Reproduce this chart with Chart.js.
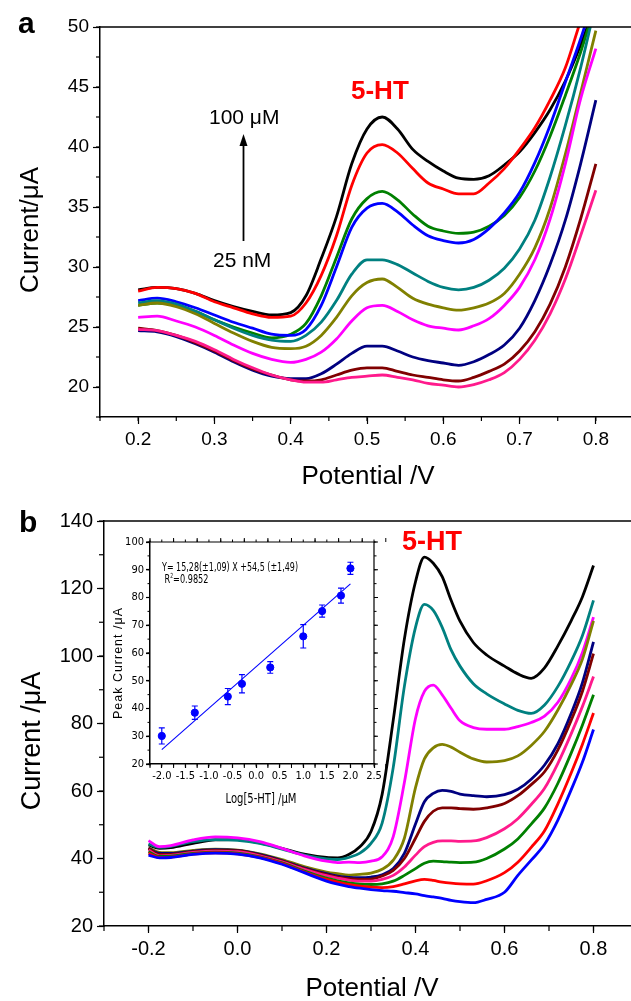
<!DOCTYPE html>
<html><head><meta charset="utf-8">
<script src="https://cdn.jsdelivr.net/npm/chart.js@4.4.0/dist/chart.umd.min.js"></script>
<style>
html,body{margin:0;padding:0;background:#fff;overflow:hidden;width:631px;height:1001px;position:relative;}
canvas{position:absolute;display:block;}
#ca{left:0;top:0;width:640px;height:500px;}
#cb{left:0;top:500px;width:640px;height:501px;}
#ci{left:100px;top:530px;width:290px;height:280px;}
</style></head><body>
<canvas id="ca" width="640" height="500"></canvas>
<canvas id="cb" width="640" height="501"></canvas>
<canvas id="ci" width="290" height="280"></canvas>
<script>
// ---------- Panel a data ----------
const A_V = [0.2, 0.225, 0.25, 0.275, 0.3, 0.325, 0.35, 0.375, 0.4, 0.42, 0.44, 0.46, 0.48, 0.5, 0.52, 0.54, 0.56, 0.58, 0.6, 0.62, 0.64, 0.66, 0.68, 0.7, 0.72, 0.74, 0.76, 0.78, 0.8];
const A_BLACK   = [28.1, 28.3, 28.2, 27.8, 27.2, 26.7, 26.3, 26.0, 26.2, 27.6, 30.7, 34.2, 38.6, 41.5, 42.5, 41.5, 39.8, 38.8, 38.0, 37.4, 37.3, 37.6, 38.5, 39.6, 41.2, 43.1, 45.5, 48.5, 52.0];
const A_RED     = [28.0, 28.3, 28.2, 27.8, 27.1, 26.6, 26.1, 25.8, 25.9, 27.0, 29.3, 32.6, 36.8, 39.5, 40.2, 39.5, 38.2, 37.0, 36.5, 36.1, 36.1, 37.0, 38.2, 39.8, 41.6, 43.9, 46.6, 50.5, 54.0];
const A_GREEN   = [26.8, 27.0, 26.8, 26.3, 25.6, 25.0, 24.5, 24.1, 24.4, 25.3, 27.6, 30.8, 34.0, 35.7, 36.3, 35.6, 34.4, 33.4, 33.0, 32.8, 32.9, 33.4, 34.3, 35.8, 38.0, 40.9, 44.3, 47.9, 52.0];
const A_BLUE    = [27.2, 27.4, 27.1, 26.6, 26.0, 25.4, 24.9, 24.4, 24.3, 24.8, 26.8, 30.0, 33.3, 34.9, 35.3, 34.6, 33.5, 32.6, 32.2, 32.0, 32.3, 33.2, 34.5, 36.2, 38.7, 41.8, 45.4, 49.0, 53.0];
const A_TEAL    = [27.0, 27.2, 26.9, 26.3, 25.6, 24.9, 24.3, 23.9, 23.8, 24.3, 25.4, 27.2, 29.4, 30.6, 30.6, 30.2, 29.5, 28.8, 28.3, 28.1, 28.3, 28.9, 29.9, 31.5, 33.9, 37.5, 41.8, 46.6, 52.0];
const A_OLIVE   = [26.8, 27.0, 26.7, 26.1, 25.3, 24.5, 23.8, 23.3, 23.2, 23.4, 24.3, 25.8, 27.6, 28.7, 29.0, 28.3, 27.4, 26.9, 26.6, 26.4, 26.6, 27.0, 27.8, 29.4, 31.6, 34.9, 39.4, 44.5, 49.7];
const A_MAGENTA = [25.8, 25.9, 25.5, 25.0, 24.3, 23.5, 22.8, 22.3, 22.05, 22.3, 22.9, 24.0, 25.5, 26.6, 26.8, 26.3, 25.6, 25.1, 24.9, 24.75, 25.1, 25.7, 26.8, 28.3, 30.6, 34.0, 38.6, 44.0, 48.2];
const A_NAVY    = [24.7, 24.6, 24.2, 23.6, 22.9, 22.1, 21.4, 20.9, 20.7, 20.7, 21.1, 21.9, 22.8, 23.4, 23.4, 23.0, 22.5, 22.2, 22.0, 21.8, 22.1, 22.7, 23.5, 24.9, 27.2, 30.2, 33.9, 38.6, 43.9];
const A_MAROON  = [24.9, 24.7, 24.3, 23.7, 23.0, 22.2, 21.5, 21.0, 20.6, 20.5, 20.6, 21.0, 21.4, 21.6, 21.6, 21.3, 21.0, 20.8, 20.6, 20.5, 20.8, 21.3, 21.9, 23.0, 24.6, 26.9, 30.0, 34.0, 38.6];
const A_PINK    = [24.8, 24.7, 24.3, 23.8, 23.1, 22.3, 21.6, 21.0, 20.6, 20.4, 20.4, 20.6, 20.8, 20.9, 21.0, 20.8, 20.6, 20.3, 20.15, 20.0, 20.2, 20.6, 21.2, 22.3, 23.9, 26.1, 29.0, 32.6, 36.4];
const A_XTICKS = [0.2, 0.3, 0.4, 0.5, 0.6, 0.7, 0.8];
const A_YTICKS = [20, 25, 30, 35, 40, 45, 50];

// ---------- Panel b data ----------
const B_V = [-0.2, -0.175, -0.15, -0.1, -0.05, 0, 0.05, 0.1, 0.15, 0.2, 0.225, 0.25, 0.275, 0.3, 0.325, 0.35, 0.375, 0.4, 0.42, 0.44, 0.46, 0.48, 0.5, 0.53, 0.56, 0.6, 0.63, 0.66, 0.69, 0.72, 0.75, 0.775, 0.8];
const B_BLACK   = [44.0, 43.0, 43.2, 44.5, 45.5, 45.6, 44.6, 43.0, 41.3, 40.3, 40.2, 41.2, 43.5, 48.0, 59.0, 81.0, 105.0, 122.0, 129.3, 127.5, 123.5, 116.5, 110.3, 104.0, 100.3, 97.0, 94.7, 93.4, 96.5, 103.0, 110.5, 117.5, 126.8];
const B_TEAL    = [44.3, 43.3, 43.6, 45.0, 45.6, 45.4, 44.5, 42.8, 41.0, 39.9, 39.7, 40.3, 41.6, 44.5, 50.5, 67.0, 91.0, 108.5, 115.3, 113.5, 108.5, 101.8, 97.0, 91.8, 88.8, 85.8, 83.9, 83.0, 85.5, 91.0, 98.5, 106.0, 116.5];
const B_MAGENTA = [45.3, 43.5, 43.8, 45.5, 46.4, 46.1, 45.0, 43.0, 40.8, 39.2, 38.8, 38.9, 38.8, 39.2, 40.5, 46.5, 62.5, 81.5, 89.5, 91.4, 88.5, 84.5, 80.8, 78.8, 78.3, 78.3, 79.1, 80.3, 82.2, 86.3, 93.3, 101.0, 111.5];
const B_OLIVE   = [43.2, 41.8, 41.7, 42.4, 42.8, 42.5, 41.4, 39.7, 37.6, 36.0, 35.5, 35.1, 35.3, 35.7, 36.8, 39.5, 46.0, 61.0, 69.5, 72.8, 73.8, 73.0, 71.5, 69.5, 68.6, 69.0, 70.4, 73.5, 77.7, 84.0, 91.6, 99.0, 110.4];
const B_NAVY    = [43.0, 41.5, 41.5, 42.2, 42.6, 42.4, 41.2, 39.4, 37.2, 35.5, 34.8, 34.4, 34.3, 34.5, 35.2, 37.0, 41.5, 50.2, 56.8, 59.3, 60.2, 59.9, 59.1, 58.6, 58.3, 58.9, 60.5, 63.5, 67.7, 74.0, 83.0, 92.0, 104.2];
const B_MAROON  = [43.0, 41.2, 41.2, 42.0, 42.4, 42.3, 41.0, 39.2, 37.0, 35.2, 34.5, 34.0, 33.8, 33.9, 34.8, 36.5, 40.0, 46.0, 51.0, 54.0, 55.0, 55.0, 54.8, 54.6, 55.0, 56.3, 58.6, 61.9, 65.7, 72.2, 81.0, 89.5, 100.7];
const B_PINK    = [42.5, 40.8, 40.9, 41.8, 42.2, 42.0, 40.8, 39.0, 36.8, 34.9, 34.2, 33.6, 33.3, 33.3, 33.8, 35.0, 37.5, 41.0, 43.5, 44.8, 45.2, 45.2, 45.1, 45.2, 46.2, 48.8, 51.8, 56.0, 60.8, 68.2, 77.0, 85.0, 93.9];
const B_GREEN   = [42.0, 40.6, 40.7, 41.5, 41.9, 41.6, 40.5, 38.7, 36.3, 34.2, 33.4, 32.8, 32.4, 32.3, 32.5, 33.3, 35.0, 37.0, 38.6, 39.2, 39.1, 38.9, 38.8, 38.9, 40.0, 42.8, 45.8, 50.2, 55.0, 62.3, 71.3, 79.5, 88.5];
const B_RED     = [41.5, 40.3, 40.4, 41.3, 41.7, 41.4, 40.3, 38.5, 36.0, 33.8, 33.0, 32.3, 31.8, 31.5, 31.4, 31.7, 32.5, 33.4, 33.8, 33.5, 33.0, 32.7, 32.5, 32.4, 33.4, 35.8, 38.9, 43.3, 48.2, 56.2, 65.4, 73.8, 83.1];
const B_BLUE    = [41.0, 40.2, 40.3, 41.2, 41.6, 41.3, 40.2, 38.3, 35.8, 33.3, 32.4, 31.7, 31.2, 30.8, 30.5, 30.3, 29.9, 29.5, 29.0, 28.6, 28.2, 27.6, 27.2, 26.9, 27.9, 30.0, 35.0, 39.5, 44.2, 51.4, 60.4, 68.5, 78.2];
const B_XTICKS = [-0.2, 0.0, 0.2, 0.4, 0.6, 0.8];
const B_YTICKS = [20, 40, 60, 80, 100, 120, 140];

// ---------- Inset data ----------
const IN_LOGC = [-2.0, -1.3, -0.6, -0.3, 0.3, 1.0, 1.4, 1.8, 2.0];
const IN_PEAK = [30.1, 38.5, 44.3, 48.9, 54.8, 66.0, 75.1, 80.7, 90.5];
const IN_ERR  = [2.9, 2.4, 2.9, 3.3, 2.1, 4.2, 2.2, 2.7, 2.2];
const FIT_X = [-2.0, 2.0];
const FIT_Y = [25.2, 84.9];
const IN_XTICKS = [-2.0, -1.5, -1.0, -0.5, 0.0, 0.5, 1.0, 1.5, 2.0, 2.5];
const IN_YTICKS = [20, 30, 40, 50, 60, 70, 80, 90, 100];

const FONT = "'Liberation Sans', Arial, sans-serif";
const NARROW = "'Liberation Sans Narrow', 'DejaVu Sans Condensed', 'Liberation Sans', sans-serif";

const COL = {black:'#000000', red:'#FF0000', green:'#008000', blue:'#0000FF', teal:'#008080',
  olive:'#808000', magenta:'#FF00FF', navy:'#000080', maroon:'#800000', pink:'#FF1A8C'};

function series(xs, ys, color){
  return {data: xs.map((x,i)=>({x:x, y:ys[i]})), borderColor: color, backgroundColor: color,
    borderWidth: 2.8, pointRadius: 0, cubicInterpolationMode: 'monotone', fill:false};
}

const deco = {
  id: 'deco',
  afterDraw(chart, args, o) {
    const ctx = chart.ctx, a = chart.chartArea;
    ctx.save();
    ctx.strokeStyle = '#000'; ctx.lineWidth = o.lw || 1.5;
    ctx.beginPath(); ctx.moveTo(a.left, a.top); ctx.lineTo(a.right + 1, a.top);
    if (o.box) { ctx.moveTo(a.right, a.top); ctx.lineTo(a.right, a.bottom); }
    ctx.stroke();
    ctx.lineWidth = o.tlw || 1.2;
    const sx = chart.scales.x, sy = chart.scales.y;
    const drawX = (step, len) => {
      const n = Math.round((sx.max - sx.min) / step);
      for (let i = 0; i <= n; i++) {
        const p = sx.getPixelForValue(sx.min + i * step);
        ctx.beginPath(); ctx.moveTo(p, a.bottom); ctx.lineTo(p, a.bottom + len); ctx.stroke();
        if (o.box) { ctx.beginPath(); ctx.moveTo(p, a.top); ctx.lineTo(p, a.top - len); ctx.stroke(); }
      }
    };
    const drawY = (step, len) => {
      const n = Math.round((sy.max - sy.min) / step);
      for (let i = 0; i <= n; i++) {
        const p = sy.getPixelForValue(sy.min + i * step);
        ctx.beginPath(); ctx.moveTo(a.left - len, p); ctx.lineTo(a.left, p); ctx.stroke();
        if (o.box) { ctx.beginPath(); ctx.moveTo(a.right, p); ctx.lineTo(a.right + len, p); ctx.stroke(); }
      }
    };
    drawX(o.minor.x, o.minor.len);
    drawY(o.minor.y, o.minor.len);
    if (o.box) { drawX(o.major.x, o.major.len); drawY(o.major.y, o.major.len); }
    if (o.arrow) {
      const w = o.arrow;
      ctx.fillStyle = '#000'; ctx.lineWidth = 1.8;
      ctx.beginPath(); ctx.moveTo(w.x, w.y1); ctx.lineTo(w.x, w.y2 + 8); ctx.stroke();
      ctx.beginPath(); ctx.moveTo(w.x, w.y2); ctx.lineTo(w.x - 4, w.y2 + 12); ctx.lineTo(w.x + 4, w.y2 + 12); ctx.closePath(); ctx.fill();
    }
    (o.texts || []).forEach(t => {
      ctx.save();
      ctx.font = t.font; ctx.fillStyle = t.color || '#000';
      ctx.textAlign = t.align || 'left'; ctx.textBaseline = t.baseline || 'alphabetic';
      if (t.spacing) ctx.letterSpacing = t.spacing;
      ctx.translate(t.x, t.y);
      if (t.rot) ctx.rotate(t.rot);
      let total = ctx.measureText(t.t).width;
      let w0 = total, w1 = 0;
      if (t.sup) {
        ctx.font = t.supFont; w1 = ctx.measureText(t.sup).width;
        ctx.font = t.font; total = w0 + w1 + ctx.measureText(t.after).width;
      }
      if (t.w) ctx.scale(t.w / total, 1);
      ctx.fillText(t.t, 0, 0);
      if (t.sup) {
        ctx.font = t.supFont; ctx.fillText(t.sup, w0, -5);
        ctx.font = t.font; ctx.fillText(t.after, w0 + w1, 0);
      }
      ctx.restore();
    });
    ctx.restore();
  }
};

const errBars = {
  id: 'errBars',
  afterDatasetsDraw(chart) {
    const ctx = chart.ctx, sx = chart.scales.x, sy = chart.scales.y;
    ctx.save(); ctx.strokeStyle = '#0000FF'; ctx.lineWidth = 1.2;
    IN_LOGC.forEach((x, i) => {
      const px = sx.getPixelForValue(x);
      const top = sy.getPixelForValue(IN_PEAK[i] + IN_ERR[i]);
      const bot = sy.getPixelForValue(IN_PEAK[i] - IN_ERR[i]);
      ctx.beginPath();
      ctx.moveTo(px, top); ctx.lineTo(px, bot);
      ctx.moveTo(px - 3, top); ctx.lineTo(px + 3, top);
      ctx.moveTo(px - 3, bot); ctx.lineTo(px + 3, bot);
      ctx.stroke();
    });
    ctx.restore();
  }
};

function xAxis(min, max, ticks, h, size, tl, pad, fmt, font) {
  return {type:'linear', min:min, max:max,
    afterBuildTicks: s => { s.ticks = ticks.map(v => ({value:v})); },
    afterFit: s => { s.height = h; },
    grid: {display:true, drawOnChartArea:false, drawTicks:true, tickLength:tl, tickColor:'#000', tickWidth:1.2, color:'#000'},
    border: {display:true, color:'#000', width:1.5},
    ticks: {color:'#000', font:{family:font, size:size}, padding:pad, maxRotation:0, autoSkip:false, callback: fmt}
  };
}
function yAxis(min, max, ticks, w, size, tl, pad, fmt, font) {
  return {type:'linear', min:min, max:max,
    afterBuildTicks: s => { s.ticks = ticks.map(v => ({value:v})); },
    afterFit: s => { s.width = w; },
    grid: {display:true, drawOnChartArea:false, drawTicks:true, tickLength:tl, tickColor:'#000', tickWidth:1.2, color:'#000'},
    border: {display:true, color:'#000', width:1.5},
    ticks: {color:'#000', font:{family:font, size:size}, padding:pad, autoSkip:false, callback: fmt}
  };
}
const f1 = v => Number(v).toFixed(1);
const f0 = v => String(Math.round(v));

// ---------- Panel a ----------
new Chart(document.getElementById('ca'), {
  type: 'line',
  data: {datasets: [
    series(A_V, A_PINK, COL.pink), series(A_V, A_MAROON, COL.maroon), series(A_V, A_NAVY, COL.navy),
    series(A_V, A_MAGENTA, COL.magenta), series(A_V, A_OLIVE, COL.olive), series(A_V, A_TEAL, COL.teal),
    series(A_V, A_BLUE, COL.blue), series(A_V, A_GREEN, COL.green), series(A_V, A_RED, COL.red),
    series(A_V, A_BLACK, COL.black)
  ]},
  options: {
    responsive:false, animation:false, devicePixelRatio:1,
    layout: {padding: {top:27, right:6, left:0, bottom:0}},
    scales: {
      x: xAxis(0.15, 0.85, A_XTICKS, 83, 19, 7, 4, f1, FONT),
      y: yAxis(17.5, 50, A_YTICKS, 100, 19, 7, 4, f0, FONT)
    },
    plugins: {
      legend:{display:false}, tooltip:{enabled:false},
      deco: {
        minor: {x:0.05, y:2.5, len:4},
        arrow: {x:243.5, y1:241, y2:134},
        texts: [
          {t:'a', x:18, y:33, font:"bold 30px "+FONT},
          {t:'5-HT', x:351, y:99, font:"bold 26px "+FONT, color:'#FF0000'},
          {t:'100 μM', x:209, y:124, font:"21px "+FONT},
          {t:'25 nM', x:213, y:267, font:"21px "+FONT},
          {t:'Current/μA', x:31, y:230, font:"26px "+FONT, align:'center', baseline:'middle', rot:-Math.PI/2},
          {t:'Potential /V', x:368, y:484, font:"26px "+FONT, align:'center'}
        ]
      }
    }
  },
  plugins: [deco]
});

// ---------- Panel b ----------
new Chart(document.getElementById('cb'), {
  type: 'line',
  data: {datasets: [
    series(B_V, B_BLUE, COL.blue), series(B_V, B_RED, COL.red), series(B_V, B_GREEN, COL.green),
    series(B_V, B_PINK, COL.pink), series(B_V, B_MAROON, COL.maroon), series(B_V, B_NAVY, COL.navy),
    series(B_V, B_OLIVE, COL.olive), series(B_V, B_MAGENTA, COL.magenta), series(B_V, B_TEAL, COL.teal),
    series(B_V, B_BLACK, COL.black)
  ]},
  options: {
    responsive:false, animation:false, devicePixelRatio:1,
    layout: {padding: {top:21, right:2, left:0, bottom:0}},
    scales: {
      x: xAxis(-0.3, 0.9, B_XTICKS, 75, 20, 7, 4, f1, FONT),
      y: yAxis(20, 140, B_YTICKS, 104, 20, 7, 4, f0, FONT)
    },
    plugins: {
      legend:{display:false}, tooltip:{enabled:false},
      deco: {
        minor: {x:0.1, y:10, len:5},
        texts: [
          {t:'b', x:19, y:32, font:"bold 30px "+FONT},
          {t:'5-HT', x:402, y:50, font:"bold 27px "+FONT, color:'#FF0000'},
          {t:'Current /μA', x:33, y:241, font:"27px "+FONT, align:'center', baseline:'middle', rot:-Math.PI/2},
          {t:'Potential /V', x:372, y:496, font:"26px "+FONT, align:'center'}
        ]
      }
    }
  },
  plugins: [deco]
});

// ---------- Inset ----------
new Chart(document.getElementById('ci'), {
  type: 'scatter',
  data: {datasets: [
    {data: IN_LOGC.map((x,i)=>({x:x, y:IN_PEAK[i]})), backgroundColor:'#0000FF', borderColor:'#0000FF',
     pointRadius:3.6, pointStyle:'circle', showLine:false},
    {data: FIT_X.map((x,i)=>({x:x, y:FIT_Y[i]})), borderColor:'#0000FF', borderWidth:1.1,
     pointRadius:0, showLine:true, fill:false}
  ]},
  options: {
    responsive:false, animation:false, devicePixelRatio:1,
    layout: {padding: {top:12, right:16, left:0, bottom:0}},
    scales: {
      x: xAxis(-2.25, 2.5, IN_XTICKS, 46, 11, 4, 2, f1, NARROW),
      y: yAxis(20, 100, IN_YTICKS, 50, 11, 4, 2, f0, NARROW)
    },
    plugins: {
      legend:{display:false}, tooltip:{enabled:false},
      deco: {
        box: true, lw: 1.2, tlw: 1,
        minor: {x:0.25, y:5, len:2.5},
        major: {x:0.5, y:10, len:4},
        texts: [
          {t:'Y= 15,28(±1,09) X +54,5 (±1,49)', x:62, y:41, font:"12.5px "+NARROW, w:136},
          {t:'R', sup:'2', after:'=0.9852', x:64.5, y:53, font:"12.5px "+NARROW, supFont:"7px "+NARROW, w:44},
          {t:'Peak Current /μA', x:18.5, y:133, font:"12px "+FONT, align:'center', baseline:'middle', rot:-Math.PI/2, spacing:'1px', w:112},
          {t:'Log[5-HT] /μM', x:161, y:273, font:"13.5px "+NARROW, align:'center', w:71}
        ]
      }
    }
  },
  plugins: [deco, errBars]
});
</script>
</body></html>
